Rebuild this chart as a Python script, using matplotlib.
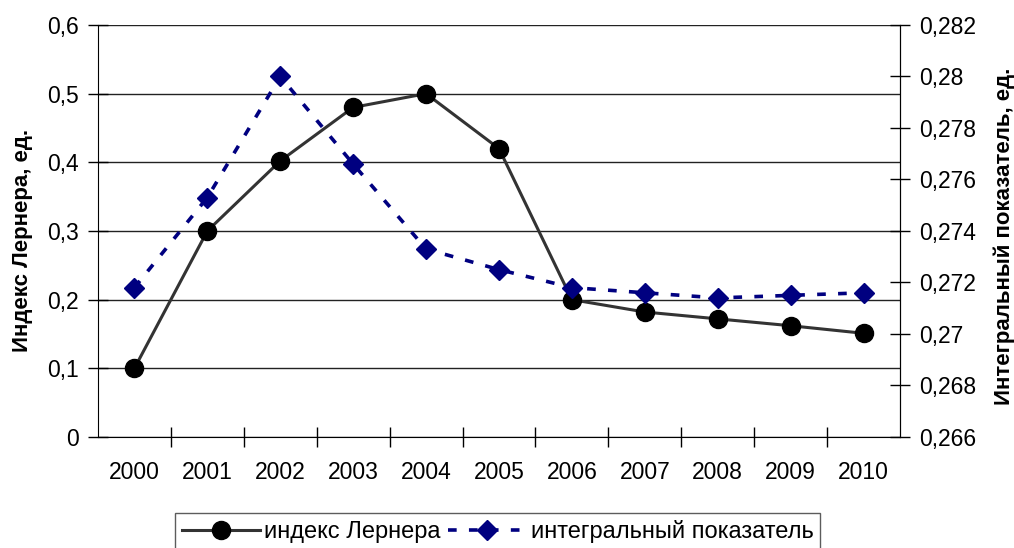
import matplotlib.pyplot as plt
import matplotlib.ticker as mticker

years = ["2000", "2001", "2002", "2003", "2004", "2005", "2006", "2007", "2008", "2009", "2010"]
lerner = [0.10, 0.30, 0.402, 0.48, 0.50, 0.42, 0.20, 0.182, 0.172, 0.162, 0.151]
integral = [0.2718, 0.2753, 0.2800, 0.2766, 0.2733, 0.2725, 0.2718, 0.2716, 0.2714, 0.2715, 0.2716]

plt.rcParams['font.family'] = ['Liberation Sans', 'DejaVu Sans']

fig = plt.figure(figsize=(10.14, 5.48), dpi=100)
ax = fig.add_axes([0.0966, 0.2026, 0.7910, 0.7518])
ax2 = ax.twinx()

x = list(range(len(years)))
l1, = ax.plot(x, lerner, color='#333333', lw=2.2, marker='o', markersize=13,
              markerfacecolor='black', markeredgecolor='black', zorder=3)
l2, = ax2.plot(x, integral, color='#000080', lw=2.6, ls=(0, (2.4, 3.4)), marker='D',
               markersize=10, markerfacecolor='#000080', markeredgecolor='#000080', zorder=3)

ax.set_xlim(-0.5, len(years) - 0.5)
ax.set_ylim(0, 0.6)
ax2.set_ylim(0.266, 0.282)

fmt_comma = lambda v, p: ('%g' % round(v, 4)).replace('.', ',')
ax.yaxis.set_major_locator(mticker.MultipleLocator(0.1))
ax.yaxis.set_major_formatter(mticker.FuncFormatter(fmt_comma))
ax2.yaxis.set_major_locator(mticker.MultipleLocator(0.002))
ax2.yaxis.set_major_formatter(mticker.FuncFormatter(fmt_comma))

# ticks between the years, labels under each year
ax.set_xticks([i + 0.5 for i in x[:-1]])
ax.set_xticklabels([])
ax.set_xticks(x, minor=True)
ax.set_xticklabels(years, minor=True)
ax.tick_params(axis='x', which='major', direction='inout', length=14, width=1)
ax.tick_params(axis='x', which='minor', length=0, labelsize=16.5, pad=17)
ax.tick_params(axis='y', direction='inout', length=14, width=1, labelsize=16.5, pad=7)
ax2.tick_params(axis='y', direction='inout', length=14, width=1, labelsize=16.5, pad=7)

ax.yaxis.grid(True, color='#222222', lw=1)
ax.set_axisbelow(True)
for a in (ax, ax2):
    a.spines['top'].set_visible(False)
ax2.spines['left'].set_visible(False)
ax2.spines['bottom'].set_visible(False)

fig.text(23 / 1014, 0.562, "Индекс Лернера, ед.", rotation=90, ha='center', va='center',
         fontsize=16, fontweight='bold')
fig.text(1004 / 1014, 0.568, "Интегральный показатель, ед.", rotation=90, ha='center',
         va='center', fontsize=16, fontweight='bold')

fig.legend([l1, l2], ["индекс Лернера", "интегральный показатель"],
           loc='upper center', bbox_to_anchor=(0.4906, 0.064), ncol=2, fontsize=17,
           frameon=True, fancybox=False, edgecolor='#333333', handlelength=3.3,
           columnspacing=0.3, handletextpad=0.2, borderpad=0.3, borderaxespad=0)

fig.savefig("out.png", dpi=100)
